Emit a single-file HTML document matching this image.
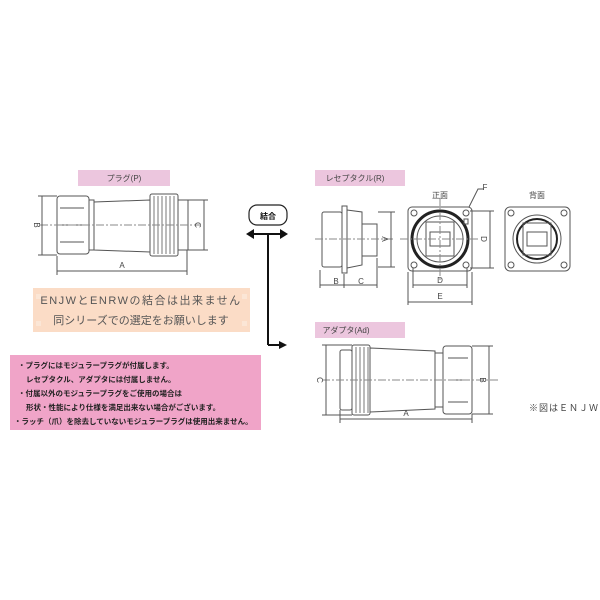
<!DOCTYPE html>
<html><head><meta charset="utf-8"><style>
body{margin:0;background:#fff}
svg{display:block}
text{font-family:"Liberation Sans","Noto Sans CJK JP",sans-serif}
</style></head><body>
<svg width="600" height="600" viewBox="0 0 600 600" xmlns="http://www.w3.org/2000/svg">
<g fill="none" stroke="#555" stroke-width="1">
<!-- Plug -->
<rect x="78" y="170" width="92" height="16" fill="#ecc6de" stroke="none"/>
<rect x="57" y="196" width="32" height="58" rx="3"/>
<line x1="60" y1="208" x2="84" y2="208"/><line x1="60" y1="225" x2="84" y2="225"/><line x1="60" y1="242" x2="84" y2="242"/>
<rect x="89" y="200" width="5" height="50"/>
<path d="M94 202 L150 200 L150 252 L94 250 Z"/>
<rect x="150" y="194" width="28" height="62" rx="2"/>
<g stroke="#777"><line x1="154" y1="196" x2="154" y2="254"/><line x1="158" y1="196" x2="158" y2="254"/><line x1="162" y1="196" x2="162" y2="254"/><line x1="166" y1="196" x2="166" y2="254"/><line x1="170" y1="196" x2="170" y2="254"/><line x1="174" y1="196" x2="174" y2="254"/></g>
<rect x="178" y="200" width="10" height="50"/>
<line x1="40" y1="225" x2="200" y2="225" stroke-dasharray="8,2,2,2" stroke="#888"/>
<line x1="42" y1="196" x2="42" y2="255"/><line x1="38" y1="196" x2="57" y2="196"/><line x1="38" y1="255" x2="57" y2="255"/>
<line x1="204" y1="200" x2="204" y2="250"/><line x1="188" y1="200" x2="208" y2="200"/><line x1="188" y1="250" x2="208" y2="250"/>
<line x1="57" y1="271" x2="187" y2="271"/><line x1="57" y1="256" x2="57" y2="275"/><line x1="187" y1="250" x2="187" y2="275"/>
<!-- Receptacle side -->
<rect x="315" y="170" width="90" height="16" fill="#ecc6de" stroke="none"/>
<rect x="322" y="212" width="20" height="55" rx="2"/>
<rect x="342" y="206" width="5" height="67"/>
<path d="M347 210 L362 212 L362 265 L347 268 Z"/>
<rect x="362" y="224" width="15" height="32"/>
<line x1="315" y1="239" x2="395" y2="239" stroke-dasharray="8,2,2,2" stroke="#888"/>
<line x1="391" y1="212" x2="391" y2="267"/><line x1="378" y1="212" x2="395" y2="212"/><line x1="378" y1="267" x2="395" y2="267"/>
<line x1="320" y1="285" x2="377" y2="285"/><line x1="320" y1="270" x2="320" y2="288"/><line x1="344" y1="274" x2="344" y2="288"/><line x1="377" y1="258" x2="377" y2="288"/>
<!-- Front -->
<rect x="408" y="207" width="64" height="64" rx="4"/>
<circle cx="414" cy="213" r="3"/><circle cx="466" cy="213" r="3"/><circle cx="414" cy="265" r="3"/><circle cx="466" cy="265" r="3"/>
<circle cx="440" cy="239" r="28" stroke="#222" stroke-width="3"/>
<circle cx="440" cy="239" r="23"/>
<rect x="426" y="222" width="28" height="34"/>
<rect x="430" y="232" width="20" height="14"/>
<rect x="464" y="219" width="4" height="5"/>
<line x1="400" y1="239" x2="480" y2="239" stroke-dasharray="8,2,2,2" stroke="#888"/>
<line x1="440" y1="198" x2="440" y2="280" stroke-dasharray="8,2,2,2" stroke="#888"/>
<path d="M469 207 L478 189 L484 189"/>
<line x1="490" y1="211" x2="490" y2="268"/><line x1="470" y1="211" x2="494" y2="211"/><line x1="470" y1="268" x2="494" y2="268"/>
<line x1="413" y1="285" x2="467" y2="285"/><line x1="413" y1="268" x2="413" y2="288"/><line x1="467" y1="268" x2="467" y2="288"/>
<line x1="408" y1="302" x2="472" y2="302"/><line x1="408" y1="272" x2="408" y2="305"/><line x1="472" y1="272" x2="472" y2="305"/>
<!-- Back -->
<rect x="505" y="207" width="65" height="64" rx="5"/>
<circle cx="511" cy="213" r="3"/><circle cx="564" cy="213" r="3"/><circle cx="511" cy="265" r="3"/><circle cx="564" cy="265" r="3"/>
<circle cx="537" cy="239" r="24"/>
<circle cx="537" cy="239" r="20" stroke="#222" stroke-width="2"/>
<rect x="523" y="223" width="28" height="32"/>
<rect x="527" y="232" width="20" height="14"/>
<!-- Adapter -->
<rect x="315" y="322" width="90" height="16" fill="#ecc6de" stroke="none"/>
<rect x="340" y="350" width="12" height="60" rx="2"/>
<rect x="352" y="345" width="18" height="70" rx="2"/>
<g stroke="#777"><line x1="356" y1="347" x2="356" y2="413"/><line x1="360" y1="347" x2="360" y2="413"/><line x1="364" y1="347" x2="364" y2="413"/><line x1="368" y1="347" x2="368" y2="413"/></g>
<path d="M370 348 L435 351 L435 409 L370 412 Z"/>
<rect x="435" y="353" width="8" height="54"/>
<rect x="443" y="346" width="29" height="68" rx="3"/>
<line x1="448" y1="358" x2="468" y2="358"/><line x1="448" y1="380" x2="468" y2="380"/><line x1="448" y1="402" x2="468" y2="402"/>
<line x1="322" y1="380" x2="500" y2="380" stroke-dasharray="8,2,2,2" stroke="#888"/>
<line x1="326" y1="345" x2="326" y2="415"/><line x1="322" y1="345" x2="352" y2="345"/><line x1="322" y1="415" x2="352" y2="415"/>
<line x1="489" y1="346" x2="489" y2="414"/><line x1="472" y1="346" x2="493" y2="346"/><line x1="472" y1="414" x2="493" y2="414"/>
<line x1="340" y1="419" x2="472" y2="419"/><line x1="340" y1="410" x2="340" y2="423"/><line x1="472" y1="414" x2="472" y2="423"/>
</g>
<!-- connector -->
<rect x="249" y="205" width="38" height="20" rx="8" fill="#fff" stroke="#222" stroke-width="1.2"/>
<g stroke="#111" stroke-width="2" fill="none">
<line x1="252" y1="234" x2="283" y2="234"/>
<line x1="268" y1="234" x2="268" y2="345"/>
<line x1="268" y1="345" x2="281" y2="345"/>
</g>
<g fill="#111">
<polygon points="246,234 254,229 254,239"/>
<polygon points="288,234 280,229 280,239"/>
<polygon points="287,345 279,341 279,349"/>
</g>
<!-- boxes -->
<rect x="33" y="288" width="217" height="44" fill="#fbdcc6"/>
<g fill="#fbe6d6"><rect x="36" y="294" width="5" height="5"/><rect x="242" y="294" width="5" height="5"/><rect x="36" y="321" width="5" height="5"/><rect x="242" y="321" width="5" height="5"/></g>
<rect x="10" y="355" width="251" height="75" fill="#f0a4c8"/>
<g font-size="8" fill="#444" text-anchor="middle">
<text x="124" y="181">プラグ(P)</text>
<text x="355" y="181">レセプタクル(R)</text>
<text x="346" y="333">アダプタ(Ad)</text>
<text x="440" y="198">正面</text>
<text x="537" y="198">背面</text>
<text x="485" y="190">F</text>
<text x="122" y="268">A</text>
<text x="336" y="284">B</text>
<text x="361" y="284">C</text>
<text x="440" y="283">D</text>
<text x="440" y="299">E</text>
<text x="406" y="416">A</text>
<text x="268" y="219" font-weight="bold" fill="#111">結合</text>
<text x="37" y="228" transform="rotate(90 37 225)">B</text>
<text x="198" y="228" transform="rotate(90 198 225)">C</text>
<text x="385" y="242" transform="rotate(90 385 239)">A</text>
<text x="484" y="242" transform="rotate(90 484 239)">D</text>
<text x="320" y="383" transform="rotate(90 320 380)">C</text>
<text x="483" y="383" transform="rotate(90 483 380)">B</text>
<text x="141" y="304" font-size="11" fill="#555" letter-spacing="1.5">ENJWとENRWの結合は出来ません</text>
<text x="141" y="324" font-size="11" fill="#555">同シリーズでの選定をお願いします</text>
</g>
<text x="529" y="411" font-size="9" fill="#444" letter-spacing="1">※図はＥＮＪＷ</text>
<g font-size="7.5" font-weight="bold" fill="#222">
<text x="18" y="368">・プラグにはモジュラープラグが付属します。</text>
<text x="26" y="382">レセプタクル、アダプタには付属しません。</text>
<text x="18" y="396">・付属以外のモジュラープラグをご使用の場合は</text>
<text x="26" y="410">形状・性能により仕様を満足出来ない場合がございます。</text>
<text x="14" y="424">・ラッチ（爪）を除去していないモジュラープラグは使用出来ません。</text>
</g>
</svg>
</body></html>
